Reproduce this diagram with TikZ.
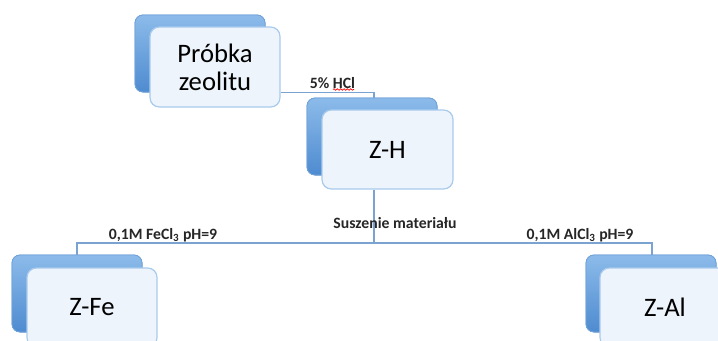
\documentclass[tikz,border=0pt]{standalone}
\usepackage{fontspec}
\setmainfont{Carlito}
\usetikzlibrary{decorations.pathmorphing}
\definecolor{linkblue}{HTML}{7AA3D2}
\definecolor{backtop}{HTML}{8CBBEA}
\definecolor{backbot}{HTML}{4E8BD0}
\definecolor{frontfill}{HTML}{EEF4FB}
\definecolor{frontedge}{HTML}{A8CAEC}
\tikzset{
  backbox/.style={rounded corners=6pt, top color=backtop, bottom color=backbot, draw=backbot!80!white, line width=0.6pt},
  frontbox/.style={rounded corners=7pt, fill=frontfill, draw=frontedge, line width=0.9pt, inner sep=0pt},
  maintext/.style={font=\fontsize{20}{21}\selectfont, align=center, text=black},
  steplabel/.style={font=\fontsize{11.8}{13}\selectfont\bfseries, inner sep=1pt, text=black!85},
  link/.style={draw=linkblue, line width=1.1pt},
}
\begin{document}
\begin{tikzpicture}[x=0.75pt, y=-0.75pt]
\useasboundingbox (0,0) rectangle (718,340);
\clip (0,0) rectangle (718,340);

% back (blue) cards
\foreach \x/\y in {135/15, 307/98, 12/255, 586/255}{
  \fill[backbox] (\x,\y) rectangle ++(130,77);
  \draw[backbox, fill=none] (\x,\y) rectangle ++(130,77);
}

% front (white) cards with their labels
\node[frontbox, minimum width=130*0.75pt, minimum height=80*0.75pt] (probka) at (215,67) {};
\node[maintext] at (probka) {Próbka\\zeolitu};
\node[frontbox, minimum width=131*0.75pt, minimum height=79*0.75pt] (zh) at (387.5,149.5) {};
\node[maintext] at (zh) {Z-H};
\node[frontbox, minimum width=130*0.75pt, minimum height=79*0.75pt] (zfe) at (92,307.5) {};
\node[maintext] at (zfe) {Z-Fe};
\node[frontbox, minimum width=130*0.75pt, minimum height=79*0.75pt] (zal) at (665,307.5) {};
\node[maintext] at (zal) {Z-Al};

% junction points of the connectors
\coordinate (a1) at (374,92.5);
\coordinate (j) at (374,243);
\coordinate (l1) at (77,243);
\coordinate (l2) at (77,255);
\coordinate (r1) at (652,243);
\coordinate (r2) at (652,255);

% connectors
\draw[link] (probka.east |- a1) -- (a1) -- (a1 |- 0,98);
\draw[link] (zh.south -| j) -- (j);
\draw[link] (l2) -- (l1) -- (r1) -- (r2);

% step labels
\node[steplabel] (hcl) at (332.5,83) {5\% HCl};
\draw[red, line width=0.5pt, decorate, decoration={snake, amplitude=0.6pt, segment length=2.5pt}]
  (333,89.5) -- (354,89.5);
\node[steplabel] (susz) at (395,223) {Suszenie materiału};
\node[steplabel] (fecl) at (163,235) {0,1M FeCl\textsubscript{3} pH=9};
\node[steplabel] (alcl) at (580,235) {0,1M AlCl\textsubscript{3} pH=9};
\end{tikzpicture}
\end{document}
